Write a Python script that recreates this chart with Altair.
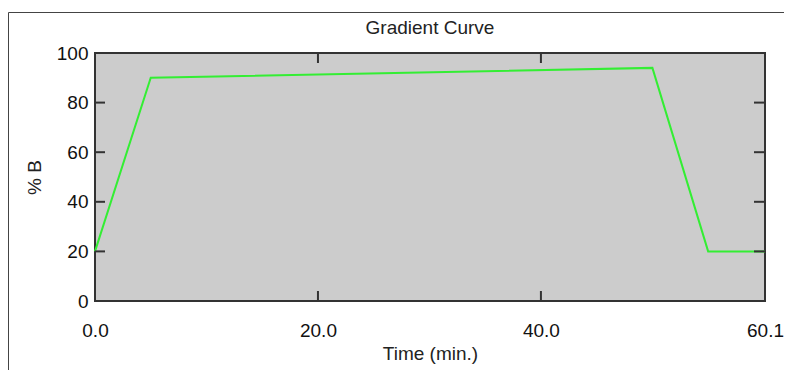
import altair as alt
import pandas as pd

# data
time_min = [0.0, 5.0, 50.0, 55.0, 60.1]
percent_b = [20, 90, 94, 20, 20]
x_ticks = [0.0, 20.0, 40.0, 60.1]
y_ticks = [0, 20, 40, 60, 80, 100]
chart_title = ["Gradient Curve"]

W, H = 670, 248
FONT = "Liberation Sans"
FRAME = "#333333"
FS = 19

df = pd.DataFrame({"t": time_min, "b": percent_b})
xdf = pd.DataFrame({"t": x_ticks})
ydf = pd.DataFrame({"b": y_ticks})
one = pd.DataFrame({"a": [0]})
tdf = pd.DataFrame({"title": chart_title})

xs = alt.Scale(domain=[0, 60.1], nice=False, zero=False)
ys = alt.Scale(domain=[0, 100], nice=False)

X_AX = alt.Axis(
    values=x_ticks, format=".1f", title="Time (min.)", ticks=False,
    domain=False, grid=False, labelPadding=20, titlePadding=4,
    labelFontSize=FS, titleFontSize=FS, labelFont=FONT, titleFont=FONT,
    labelColor="#111", titleColor="#222", titleFontWeight="normal",
    labelOverlap=False, labelFlush=False)
Y_AX = alt.Axis(
    values=y_ticks, title="% B", ticks=False, domain=False, grid=False,
    labelPadding=7, titlePadding=12, labelFontSize=FS, titleFontSize=FS,
    labelFont=FONT, titleFont=FONT, labelColor="#111", titleColor="#222",
    titleFontWeight="normal", labelOverlap=False, labelFlush=False)

line = alt.Chart(df).mark_line(color="#33ee33", strokeWidth=2).encode(
    x=alt.X("t:Q", scale=xs, axis=X_AX),
    y=alt.Y("b:Q", scale=ys, axis=Y_AX),
)

left_ticks = alt.Chart(ydf).mark_rule(color=FRAME, strokeWidth=2).encode(
    y=alt.Y("b:Q", scale=ys, axis=Y_AX), x=alt.value(0), x2=alt.value(10))
right_ticks = alt.Chart(ydf).mark_rule(color=FRAME, strokeWidth=2).encode(
    y=alt.Y("b:Q", scale=ys, axis=Y_AX), x=alt.value(W - 11), x2=alt.value(W))
bottom_ticks = alt.Chart(xdf).mark_rule(color=FRAME, strokeWidth=2).encode(
    x=alt.X("t:Q", scale=xs, axis=X_AX), y=alt.value(H), y2=alt.value(H - 10))
top_ticks = alt.Chart(xdf).mark_rule(color=FRAME, strokeWidth=2).encode(
    x=alt.X("t:Q", scale=xs, axis=X_AX), y=alt.value(0), y2=alt.value(10))

frame_left = alt.Chart(one).mark_rule(color="#444444", strokeWidth=1).encode(
    x=alt.value(-86.5), y=alt.value(-40.5), y2=alt.value(340))
frame_top = alt.Chart(one).mark_rule(color="#444444", strokeWidth=1).encode(
    y=alt.value(-40.5), x=alt.value(-86.5), x2=alt.value(720))

title_mark = alt.Chart(tdf).mark_text(
    font=FONT, fontSize=FS, color="#222", align="center", baseline="alphabetic"
).encode(text="title:N", x=alt.value(W / 2), y=alt.value(-19))

chart = alt.layer(
    line, left_ticks, right_ticks, bottom_ticks, top_ticks, frame_left, frame_top,
    title_mark
).properties(
    width=W, height=H,
    background="white",
    autosize=alt.AutoSizeParams(type="none"),
    padding={"left": 87, "top": 45, "right": 19, "bottom": 69},
).configure_view(
    fill="#cccccc", stroke=FRAME, strokeWidth=2
)

chart.save("out.html", embed_options={"renderer": "svg", "actions": False})
